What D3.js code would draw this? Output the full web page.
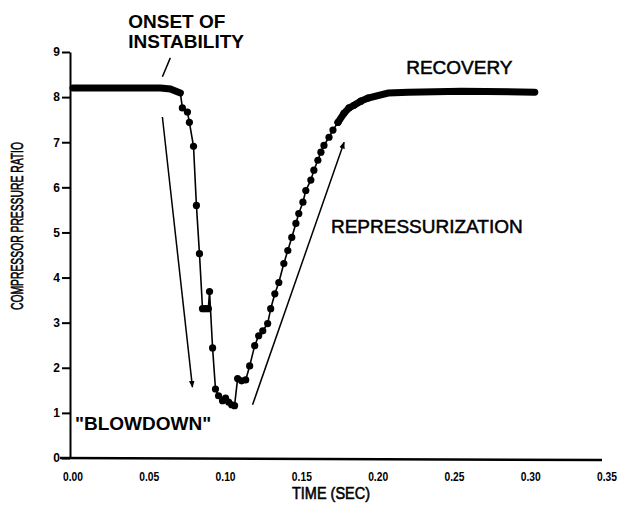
<!DOCTYPE html>
<html>
<head>
<meta charset="utf-8">
<script src="https://cdn.jsdelivr.net/npm/d3@7"></script>
<style>
  body { margin: 0; background: #fff; }
  text { font-family: "Liberation Sans", Arial, sans-serif; fill: #000; }
</style>
</head>
<body>
<div id="chart"></div>
<script>
var width = 625;
var height = 515;

// first plateau (steady operation before the stall), drawn as a thick band
var plateau1Time = [0.0013, 0.0300, 0.0586, 0.0651, 0.0717];
var plateau1Ratio = [8.20, 8.20, 8.20, 8.18, 8.09];

// transient points (blowdown + repressurization), drawn with markers
var transTime = [0.0730, 0.0763, 0.0776, 0.0803, 0.0822, 0.0842, 0.0862, 0.0880, 0.0900, 0.0908,
  0.0928, 0.0947, 0.0967, 0.0993, 0.1013, 0.1033, 0.1053, 0.1072, 0.1092, 0.1118,
  0.1145, 0.1171, 0.1204, 0.1230, 0.1257, 0.1289, 0.1309, 0.1336, 0.1362, 0.1395,
  0.1421, 0.1447, 0.1474, 0.1493, 0.1520, 0.1539, 0.1572, 0.1592, 0.1618, 0.1638,
  0.1658, 0.1691, 0.1717, 0.1750, 0.1789, 0.1822, 0.1855, 0.1900, 0.1947];
var transRatio = [7.76, 7.67, 7.44, 6.91, 5.60, 4.53, 3.31, 3.31, 3.31, 3.69,
  2.44, 1.53, 1.38, 1.27, 1.33, 1.24, 1.18, 1.16, 1.76, 1.71,
  1.73, 2.04, 2.49, 2.71, 2.82, 2.98, 3.31, 3.64, 3.89, 4.31,
  4.60, 4.89, 5.20, 5.42, 5.67, 5.93, 6.16, 6.38, 6.60, 6.78,
  6.93, 7.11, 7.27, 7.44, 7.64, 7.76, 7.82, 7.91, 7.98];

// recovered plateau (dense markers merge into a thick band)
var plateau2Time = [0.1750, 0.1789, 0.1822, 0.1855, 0.1900, 0.1947, 0.2079, 0.2210, 0.2560, 0.3040];
var plateau2Ratio = [7.44, 7.64, 7.76, 7.82, 7.91, 7.98, 8.09, 8.11, 8.13, 8.11];

var xTicks = [0, 0.05, 0.10, 0.15, 0.20, 0.25, 0.30, 0.35];
var xTickLabels = ["0.00", "0.05", "0.10", "0.15", "0.20", "0.25", "0.30", "0.35"];
var yTicks = [0, 1, 2, 3, 4, 5, 6, 7, 8, 9];

// annotation texts [label, time, ratio, bold]
var notes = [
  ["ONSET OF", 0.0375, 9.53, true],
  ["INSTABILITY", 0.0375, 9.08, true],
  ["RECOVERY", 0.2197, 8.51, false],
  ["REPRESSURIZATION", 0.1704, 4.99, false],
  ["\"BLOWDOWN\"", 0.0026, 0.62, true]
];
// annotation lines [t1, r1, t2, r2, arrowhead]
var pointers = [
  [0.0651, 8.87, 0.0599, 8.45, false],
  [0.0599, 7.56, 0.0796, 1.57, true],
  [0.1190, 1.18, 0.1790, 7.00, true]
];

var x = d3.scaleLinear().domain([0, 0.35]).range([71, 605]);
var y = d3.scaleLinear().domain([0, 9]).range([458, 52]);

var svg = d3.select("#chart")
  .append("svg")
  .attr("width", width)
  .attr("height", height);

svg.append("defs").append("marker")
  .attr("id", "head")
  .attr("viewBox", "0 -5 10 10")
  .attr("refX", 9)
  .attr("markerWidth", 7)
  .attr("markerHeight", 7)
  .attr("markerUnits", "userSpaceOnUse")
  .attr("orient", "auto")
  .append("path")
  .attr("d", "M0,-4L10,0L0,4Z")
  .attr("fill", "#000");

// axes
var yAxis = d3.axisLeft(y).tickValues(yTicks).tickSize(8).tickSizeOuter(0);
var gy = svg.append("g").attr("transform", "translate(70,0)").call(yAxis);
gy.select(".domain").attr("stroke-width", 2);
gy.selectAll(".tick line").attr("stroke-width", 2);
gy.selectAll(".tick text")
  .attr("x", -10)
  .style("font-family", "'Liberation Sans', Arial, sans-serif")
  .style("font-size", "12px")
  .style("font-weight", "bold");

svg.append("line")
  .attr("x1", 60).attr("x2", 602)
  .attr("y1", y(0)).attr("y2", y(0) + 2)
  .attr("stroke", "#000")
  .attr("stroke-width", 2.5);

svg.append("g").selectAll("text")
  .data(xTicks)
  .enter()
  .append("text")
  .attr("x", d => x(d) + 2)
  .attr("y", 481)
  .attr("text-anchor", "middle")
  .attr("textLength", 20)
  .attr("lengthAdjust", "spacingAndGlyphs")
  .style("font-size", "13px")
  .style("font-weight", "bold")
  .text((d, i) => xTickLabels[i]);

// axis titles
svg.append("text")
  .attr("x", 331)
  .attr("y", 499)
  .attr("text-anchor", "middle")
  .attr("textLength", 78)
  .attr("lengthAdjust", "spacingAndGlyphs")
  .style("font-size", "17px")
  .style("stroke", "#000")
  .style("stroke-width", 0.6)
  .text("TIME (SEC)");

svg.append("text")
  .attr("transform", "translate(23,226) rotate(-90)")
  .attr("text-anchor", "middle")
  .attr("textLength", 168)
  .attr("lengthAdjust", "spacingAndGlyphs")
  .style("font-size", "17px")
  .style("stroke", "#000")
  .style("stroke-width", 0.6)
  .text("COMPRESSOR PRESSURE RATIO");

// data
var line = d3.line().x(d => x(d[0])).y(d => y(d[1]));
var p1 = plateau1Time.map((t, i) => [t, plateau1Ratio[i]]);
var tr = transTime.map((t, i) => [t, transRatio[i]]);
var p2 = plateau2Time.map((t, i) => [t, plateau2Ratio[i]]);

svg.append("path")
  .attr("d", line(p1.concat(tr, p2.slice(6))))
  .attr("fill", "none")
  .attr("stroke", "#000")
  .attr("stroke-width", 1.6);

[p1, p2].forEach(function (seg) {
  svg.append("path")
    .attr("d", line(seg))
    .attr("fill", "none")
    .attr("stroke", "#000")
    .attr("stroke-width", 7)
    .attr("stroke-linecap", "round");
});

svg.append("g").selectAll("circle")
  .data(tr)
  .enter()
  .append("circle")
  .attr("cx", d => x(d[0]))
  .attr("cy", d => y(d[1]))
  .attr("r", 3.6)
  .attr("fill", "#000");

// annotations
svg.append("g").selectAll("line")
  .data(pointers)
  .enter()
  .append("line")
  .attr("x1", d => x(d[0]))
  .attr("y1", d => y(d[1]))
  .attr("x2", d => x(d[2]))
  .attr("y2", d => y(d[3]))
  .attr("stroke", "#000")
  .attr("stroke-width", 1.5)
  .attr("marker-end", d => d[4] ? "url(#head)" : null);

svg.append("g").selectAll("text")
  .data(notes)
  .enter()
  .append("text")
  .attr("x", d => x(d[1]))
  .attr("y", d => y(d[2]))
  .style("font-size", "19px")
  .style("font-weight", d => d[3] ? "bold" : "normal")
  .style("stroke", d => d[3] ? "none" : "#000")
  .style("stroke-width", 0.5)
  .text(d => d[0]);
</script>
</body>
</html>
